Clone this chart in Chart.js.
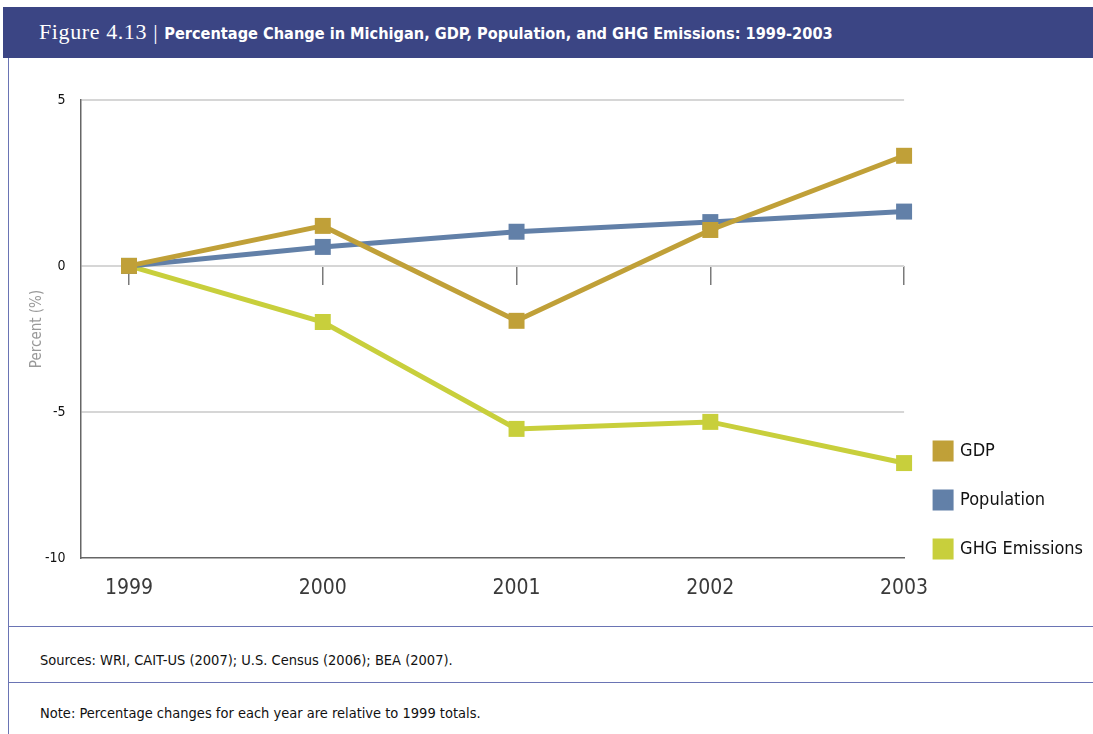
<!DOCTYPE html>
<html>
<head>
<meta charset="utf-8">
<script src="https://cdn.jsdelivr.net/npm/chart.js@4.4.1/dist/chart.umd.min.js"></script>
<style>
  body { margin: 0; background: #fff; width: 1093px; height: 734px; position: relative; overflow: hidden; }
  .header { position: absolute; left: 3px; top: 7px; width: 1090px; height: 51px; background: #3b4584; color: #fff; }
  .header .fig { position: absolute; left: 36px; top: 12px; font-family: "Liberation Serif", serif; font-size: 22px; letter-spacing: 0.6px; white-space: nowrap; }
  .header .ttl { font-family: "DejaVu Sans Condensed", "Liberation Sans Narrow", sans-serif; font-weight: bold; font-size: 16.2px; letter-spacing: 0; }
  .vline { position: absolute; left: 8px; top: 58px; width: 1px; height: 676px; background: #6a74b4; }
  .hline { position: absolute; left: 8px; width: 1085px; height: 1px; background: #6a74b4; }
  .foot { position: absolute; left: 40px; font-family: "DejaVu Sans Condensed", "Liberation Sans Narrow", sans-serif; font-size: 14.5px; color: #111; }
  #wrap { position: absolute; left: 9px; top: 60px; width: 1084px; height: 555px; }
</style>
</head>
<body>
<div class="header"><div class="fig">Figure 4.13 | <span class="ttl">Percentage Change in Michigan, GDP, Population, and GHG Emissions: 1999-2003</span></div></div>
<div class="vline"></div>
<div class="hline" style="top:626px"></div>
<div class="hline" style="top:682px"></div>
<div class="foot" style="top:652px">Sources: WRI, CAIT-US (2007); U.S. Census (2006); BEA (2007).</div>
<div class="foot" style="top:705px">Note: Percentage changes for each year are relative to 1999 totals.</div>
<div id="wrap"><canvas id="chart-grafico"></canvas></div>
<script>
const years = [1999, 2000, 2001, 2002, 2003];
const gdp = [0, 1.37, -1.88, 1.23, 3.77];
const population = [0, 0.65, 1.17, 1.50, 1.86];
const ghgEmissions = [0, -1.92, -5.58, -5.34, -6.75];
const yTicks = [-10, -5, 0, 5.68];

const narrow = '"DejaVu Sans Condensed", "Liberation Sans Narrow", sans-serif';
const toPoints = (vals) => vals.map((v, i) => ({ x: years[i], y: v }));
const setYearTicks = (scale) => { scale.ticks = years.map(v => ({ value: v })); };

const serie = (label, vals, color) => ({
    label: label,
    data: toPoints(vals),
    borderColor: color,
    backgroundColor: color,
    borderWidth: 5,
    pointStyle: 'rect',
    pointRadius: 11.3,
    pointBorderWidth: 0,
    pointHoverRadius: 11.3,
    tension: 0,
    clip: false,
    xAxisID: 'x',
    yAxisID: 'y'
});

// sube un poco la leyenda para que quede como en la figura
const subirLeyenda = {
    id: 'subirLeyenda',
    afterLayout(chart) { chart.legend.bottom -= 12; }
};

const ctx = document.getElementById('chart-grafico');
new Chart(ctx, {
    type: 'line',
    data: {
        datasets: [
            serie('GDP', gdp, '#c0a038'),
            serie('Population', population, '#6280a8'),
            serie('GHG Emissions', ghgEmissions, '#c8cf3c')
        ]
    },
    options: {
        responsive: true,
        maintainAspectRatio: false,
        animation: false,
        layout: { padding: { left: 19, top: 40, right: 0, bottom: 14 } },
        plugins: {
            legend: {
                position: 'right',
                align: 'end',
                labels: {
                    boxWidth: 16,
                    boxHeight: 16,
                    padding: 31,
                    color: '#111',
                    font: { family: narrow, size: 18 }
                }
            },
            tooltip: { enabled: false }
        },
        scales: {
            x: {
                type: 'linear',
                min: 1998.75,
                max: 2003,
                position: { y: 0 },
                afterBuildTicks: setYearTicks,
                afterFit: (scale) => { scale.height = 0; },
                ticks: { display: false },
                grid: { drawOnChartArea: false, drawTicks: true, tickLength: 19, color: '#7a7a7a', lineWidth: 1.5 },
                border: { display: false }
            },
            x2: {
                type: 'linear',
                min: 1998.75,
                max: 2003,
                position: 'bottom',
                afterBuildTicks: setYearTicks,
                afterFit: (scale) => { scale.height = 43; },
                ticks: { callback: v => String(v), padding: 18, color: '#3a3a3a', font: { family: narrow, size: 21 }, maxRotation: 0 },
                grid: { drawOnChartArea: false, drawTicks: false },
                border: { color: '#666', width: 1.5 }
            },
            y: {
                min: -10,
                max: 5.68,
                afterBuildTicks: (scale) => { scale.ticks = yTicks.map(v => ({ value: v })); },
                ticks: { callback: v => (v > 5 ? '5' : String(v)), padding: 15, color: '#111', font: { family: narrow, size: 14 } },
                grid: { drawTicks: false, lineWidth: 2, color: (c) => (c.tick && c.tick.value === -10 ? 'rgba(0,0,0,0)' : '#d6d6d6') },
                border: { color: '#666', width: 1.5 },
                title: { display: true, text: 'Percent (%)', color: '#999', font: { family: narrow, size: 15 }, padding: { top: 0, bottom: -16 } }
            }
        }
    },
    plugins: [subirLeyenda]
});
</script>
</body>
</html>
